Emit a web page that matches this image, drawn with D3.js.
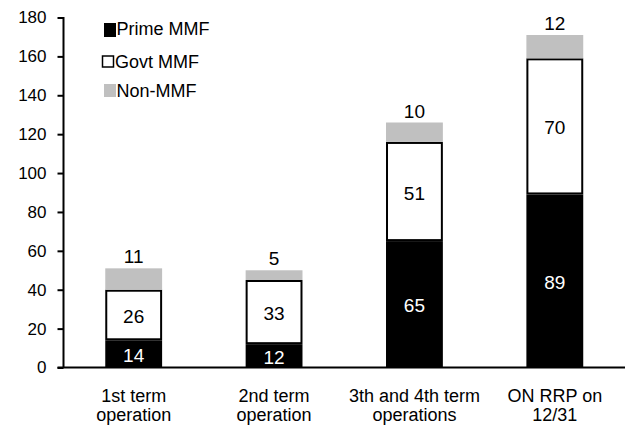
<!DOCTYPE html>
<html>
<head>
<meta charset="utf-8">
<script src="https://cdn.jsdelivr.net/npm/d3@7/dist/d3.min.js"></script>
<style>
  html, body { margin: 0; padding: 0; background: #fff; }
  svg { display: block; font-family: "Liberation Sans", Arial, sans-serif; }
</style>
</head>
<body>
<svg id="chart" width="628" height="429"></svg>
<script>
// Categories (two-line labels) and stacked series values
const categories = [
  ["1st term", "operation"],
  ["2nd term", "operation"],
  ["3th and 4th term", "operations"],
  ["ON RRP on", "12/31"]
];
const primeMMF = [14, 12, 65, 89];
const govtMMF = [26, 33, 51, 70];
const nonMMF = [11, 5, 10, 12];
const yTicks = [0, 20, 40, 60, 80, 100, 120, 140, 160, 180];
const seriesNames = ["Prime MMF", "Govt MMF", "Non-MMF"];

const svg = d3.select("#chart");
const plotLeft = 63.5, plotRight = 625, plotTop = 17.5, plotBottom = 367.5;

const x = d3.scaleBand()
  .domain(d3.range(categories.length))
  .range([plotLeft, plotRight])
  .paddingInner(0.595)
  .paddingOuter(0.2975);

const y = d3.scaleLinear().domain([0, 180]).range([plotBottom, plotTop]);

const rows = categories.map((c, i) => ({ i, prime: primeMMF[i], govt: govtMMF[i], non: nonMMF[i] }));
const stack = d3.stack().keys(["prime", "govt", "non"])(rows);
const fills = { prime: "#000", govt: "#fff", non: "#c0c0c0" };

// Bars
stack.forEach(layer => {
  const key = layer.key;
  const inset = key === "govt" ? 1 : 0;
  svg.append("g").selectAll("rect")
    .data(layer)
    .join("rect")
    .attr("x", (d, i) => x(i) + inset)
    .attr("width", x.bandwidth() - 2 * inset)
    .attr("y", d => y(d[1]) + inset)
    .attr("height", d => y(d[0]) - y(d[1]) - 2 * inset)
    .attr("fill", fills[key])
    .attr("stroke", key === "govt" ? "#000" : "none")
    .attr("stroke-width", key === "govt" ? 2 : 0);
});

// Value labels
const valueLabels = svg.append("g").attr("font-size", 19).attr("text-anchor", "middle");
stack[0].forEach((d, i) => {
  valueLabels.append("text")
    .attr("x", x(i) + x.bandwidth() / 2)
    .attr("y", (y(d[0]) + y(d[1])) / 2 + 8)
    .attr("fill", "#fff")
    .text(primeMMF[i]);
});
stack[1].forEach((d, i) => {
  valueLabels.append("text")
    .attr("x", x(i) + x.bandwidth() / 2)
    .attr("y", (y(d[0]) + y(d[1])) / 2 + 8)
    .attr("fill", "#000")
    .text(govtMMF[i]);
});
stack[2].forEach((d, i) => {
  valueLabels.append("text")
    .attr("x", x(i) + x.bandwidth() / 2)
    .attr("y", y(d[1]) - 5)
    .attr("fill", "#000")
    .text(nonMMF[i]);
});

// Y axis
const yAxis = d3.axisLeft(y).tickValues(yTicks).tickSize(6).tickPadding(11);
const gy = svg.append("g").attr("transform", `translate(${plotLeft},0)`).call(yAxis);
gy.select(".domain").attr("stroke", "#000").attr("stroke-width", 2)
  .attr("d", `M0,${plotTop - 0.5}V${plotBottom}`);
gy.selectAll(".tick line").attr("stroke", "#000").attr("stroke-width", 2);
gy.selectAll(".tick text").attr("font-size", 17).attr("fill", "#000")
  .attr("font-family", "Liberation Sans, Arial, sans-serif");

// X axis baseline
svg.append("line")
  .attr("x1", plotLeft - 6).attr("x2", plotRight)
  .attr("y1", y(0)).attr("y2", y(0))
  .attr("stroke", "#000").attr("stroke-width", 2);

// Category labels
const cat = svg.append("g").attr("font-size", 18).attr("text-anchor", "middle").attr("fill", "#000");
categories.forEach((lines, i) => {
  const cx = x(i) + x.bandwidth() / 2;
  const t = cat.append("text").attr("x", cx).attr("y", 402);
  lines.forEach((ln, k) => {
    t.append("tspan").attr("x", cx).attr("dy", k === 0 ? 0 : 19).text(ln);
  });
});

// Legend
const legend = svg.append("g").attr("font-size", 18).attr("fill", "#000");
const legendItems = [
  { name: seriesNames[0], rx: 104, ry: 23, w: 12, h: 14, fill: "#000", stroke: "none", tx: 116.5, ty: 35 },
  { name: seriesNames[1], rx: 102.5, ry: 56, w: 11, h: 11, fill: "#fff", stroke: "#000", tx: 115, ty: 68 },
  { name: seriesNames[2], rx: 104, ry: 84, w: 12, h: 13, fill: "#c0c0c0", stroke: "none", tx: 116.5, ty: 97 }
];
legendItems.forEach(it => {
  legend.append("rect")
    .attr("x", it.rx).attr("y", it.ry).attr("width", it.w).attr("height", it.h)
    .attr("fill", it.fill).attr("stroke", it.stroke).attr("stroke-width", 1.5);
  legend.append("text").attr("x", it.tx).attr("y", it.ty).text(it.name);
});
</script>
</body>
</html>
